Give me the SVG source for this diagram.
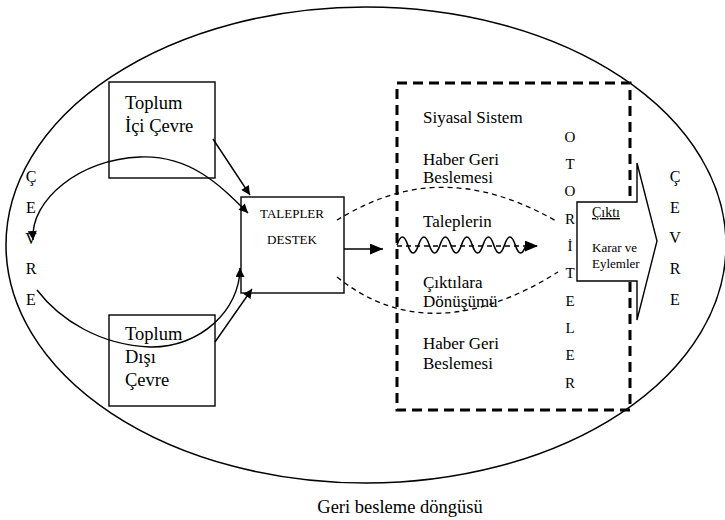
<svg xmlns="http://www.w3.org/2000/svg" width="725" height="520" viewBox="0 0 725 520" font-family="'Liberation Serif','DejaVu Serif','Times New Roman',serif">
<style>
text{font-family:"Liberation Serif","DejaVu Serif","Times New Roman",serif;fill:#000}
.box{fill:#fff;stroke:#000;stroke-width:1.4}
.ln{fill:none;stroke:#000;stroke-width:1.4}
.dash{fill:none;stroke:#000;stroke-width:1.3;stroke-dasharray:5 4}
.t17{font-size:17px}
.t18{font-size:18.5px}
.v{font-size:15px;text-anchor:middle}
.c{font-size:16px;text-anchor:middle}
</style>
<defs>
<marker id="ah" viewBox="0 0 10 10" refX="10" refY="5" markerWidth="10" markerHeight="9" markerUnits="userSpaceOnUse" orient="auto-start-reverse">
<path d="M0,0 L10,5 L0,10 z" fill="#000"/>
</marker>
<marker id="ah2" viewBox="0 0 12 10" refX="12" refY="5" markerWidth="13" markerHeight="11" markerUnits="userSpaceOnUse" orient="auto">
<path d="M0,0 L12,5 L0,10 z" fill="#000"/>
</marker>
</defs>
<rect width="725" height="520" fill="#fff"/>
<g id="environment">
<ellipse cx="366" cy="245" rx="360" ry="238" fill="none" stroke="#000" stroke-width="1.5"/>
<g id="cevre-left">
<text class="c" x="31" y="182">Ç</text>
<text class="c" x="31" y="213">E</text>
<text class="c" x="31" y="244">V</text>
<text class="c" x="31" y="274">R</text>
<text class="c" x="31" y="305">E</text>
</g>
<g id="cevre-right">
<text class="c" x="675" y="182">Ç</text>
<text class="c" x="675" y="213">E</text>
<text class="c" x="675" y="243">V</text>
<text class="c" x="675" y="274">R</text>
<text class="c" x="675" y="305">E</text>
</g>
</g>
<g id="system">
<rect x="397" y="83" width="233" height="327" fill="none" stroke="#000" stroke-width="3" stroke-dasharray="10 6"/>
<text class="t17" x="423" y="123">Siyasal Sistem</text>
<text class="t17" x="423" y="165">Haber Geri</text>
<text class="t17" x="423" y="183">Beslemesi</text>
<text class="t17" x="423" y="227">Taleplerin</text>
<text class="t17" x="423" y="288">Çıktılara</text>
<text class="t17" x="423" y="307">Dönüşümü</text>
<text class="t17" x="423" y="349">Haber Geri</text>
<text class="t17" x="423" y="369">Beslemesi</text>
</g>
<g id="otoriteler">
<text class="v" x="570" y="142">O</text>
<text class="v" x="570" y="169">T</text>
<text class="v" x="570" y="196">O</text>
<text class="v" x="570" y="224">R</text>
<text class="v" x="570" y="251">İ</text>
<text class="v" x="570" y="278">T</text>
<text class="v" x="570" y="306">E</text>
<text class="v" x="570" y="333">L</text>
<text class="v" x="570" y="360">E</text>
<text class="v" x="570" y="388">R</text>
</g>
<g id="toplum-ici">
<rect class="box" x="109" y="82" width="106" height="96"/>
<text class="t18" x="125" y="109">Toplum</text>
<text class="t18" x="125" y="132">İçi Çevre</text>
</g>
<g id="toplum-disi">
<rect class="box" x="109" y="315" width="106" height="91"/>
<text class="t18" x="125" y="340">Toplum</text>
<text class="t18" x="125" y="363">Dışı</text>
<text class="t18" x="125" y="386">Çevre</text>
</g>
<g id="talepler">
<rect class="box" x="241" y="197" width="103" height="96"/>
<text x="292" y="218" font-size="13" text-anchor="middle">TALEPLER</text>
<text x="292" y="244" font-size="13" text-anchor="middle">DESTEK</text>
</g>
<g id="cikti">
<path d="M577,202 H637 V163 L657,241 L637,320 V281 H577 Z" fill="#fff" stroke="#000" stroke-width="1.4"/>
<text x="592" y="217" font-size="14" text-decoration="underline">Çıktı</text>
<text x="592" y="252" font-size="13">Karar ve</text>
<text x="592" y="268" font-size="13">Eylemler</text>
</g>
<g id="connectors">
<path class="ln" d="M213,139 L250,195" marker-end="url(#ah)"/>
<path class="ln" d="M215,342 L252,289" marker-end="url(#ah)"/>
<path class="ln" d="M33,240 C30,200 80,159 140,157 C190,155 220,185 248,213" marker-start="url(#ah)" marker-end="url(#ah)"/>
<path class="ln" d="M37,290 C60,320 100,345 150,347 C200,348 240,310 240,268" marker-end="url(#ah)"/>
<path class="ln" d="M344,249 L383,249" marker-end="url(#ah2)"/>
<path class="dash" d="M337,220 C380,195 450,160 558,222"/>
<path class="dash" d="M337,277 Q430,352 558,272"/>
<path class="dash" d="M397,246 L538,246" marker-end="url(#ah2)"/>
<path fill="none" stroke="#000" stroke-width="1.6" d="M397,245 q5.4,-16 10.75,0 t10.75,0 t10.75,0 t10.75,0 t10.75,0 t10.75,0 t10.75,0 t10.75,0 t10.75,0 t10.75,0 t10.75,0 t10.75,0"/>
</g>
<text x="400" y="513" font-size="18.5" text-anchor="middle">Geri besleme döngüsü</text>
</svg>
